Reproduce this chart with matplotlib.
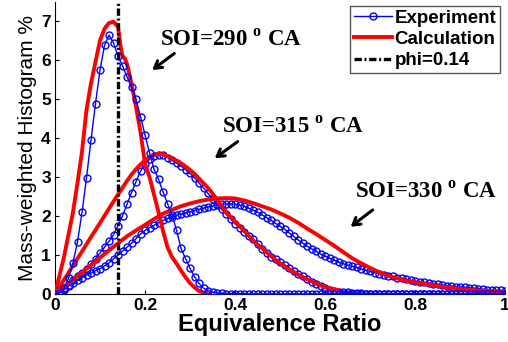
import numpy as np
import matplotlib
matplotlib.use('Agg')
import matplotlib.pyplot as plt

plt.rcParams['font.family'] = ['Liberation Sans', 'DejaVu Sans']
plt.rcParams['mathtext.fontset'] = 'custom'
plt.rcParams['mathtext.rm'] = 'Liberation Serif:bold'

# experiment: histogram bins every 0.01
phi_exp = np.round(np.arange(0, 101) * 0.01, 2)

exp_290 = [0.0, 0.03, 0.15, 0.40, 0.80, 1.34, 2.09, 2.98, 3.95, 4.88,
           5.74, 6.38, 6.64, 6.44, 6.10, 5.85, 5.57, 5.30, 4.99, 4.55,
           4.08, 3.62, 3.20, 2.94, 2.62, 2.32, 2.03, 1.64, 1.17, 0.91,
           0.66, 0.44, 0.27, 0.15, 0.08, 0.05, 0.03, 0.02, 0.01, 0.01,
           0.01, 0.01, 0.01, 0.0, 0.0, 0.0, 0.0, 0.0, 0.0, 0.0,
           0.0, 0.0, 0.0, 0.0, 0.0, 0.0, 0.0, 0.0, 0.0, 0.0,
           0.0, 0.0, 0.0, 0.0, 0.0, 0.0, 0.0, 0.0, 0.0, 0.0,
           0.0, 0.0, 0.0, 0.0, 0.0, 0.0, 0.0, 0.0, 0.0, 0.0,
           0.0, 0.0, 0.0, 0.0, 0.0, 0.0, 0.0, 0.0, 0.0, 0.0,
           0.0, 0.0, 0.0, 0.0, 0.0, 0.0, 0.0, 0.0, 0.0, 0.0,
           0.0]

exp_315 = [0.0, 0.03, 0.10, 0.22, 0.35, 0.45, 0.55, 0.65, 0.77, 0.90,
           1.05, 1.20, 1.35, 1.52, 1.75, 2.00, 2.30, 2.60, 2.88, 3.15,
           3.33, 3.45, 3.53, 3.57, 3.56, 3.50, 3.43, 3.36, 3.28, 3.19,
           3.09, 2.98, 2.85, 2.72, 2.58, 2.44, 2.30, 2.17, 2.05, 1.92,
           1.80, 1.70, 1.60, 1.50, 1.40, 1.28, 1.16, 1.06, 0.96, 0.89,
           0.82, 0.74, 0.66, 0.60, 0.52, 0.45, 0.38, 0.31, 0.25, 0.20,
           0.15, 0.11, 0.08, 0.06, 0.05, 0.04, 0.03, 0.02, 0.02, 0.01,
           0.01, 0.01, 0.01, 0.01, 0.01, 0.0, 0.0, 0.0, 0.0, 0.0,
           0.0, 0.0, 0.0, 0.0, 0.0, 0.0, 0.0, 0.0, 0.0, 0.0,
           0.0, 0.0, 0.0, 0.0, 0.0, 0.0, 0.0, 0.0, 0.0, 0.0,
           0.0]

exp_330 = [0.0, 0.05, 0.12, 0.20, 0.28, 0.35, 0.42, 0.48, 0.54, 0.60,
           0.65, 0.72, 0.80, 0.90, 1.00, 1.10, 1.20, 1.30, 1.42, 1.54,
           1.63, 1.70, 1.76, 1.83, 1.89, 1.94, 1.98, 2.02, 2.05, 2.08,
           2.11, 2.14, 2.17, 2.20, 2.23, 2.26, 2.28, 2.30, 2.31, 2.31,
           2.30, 2.28, 2.25, 2.20, 2.15, 2.10, 2.03, 1.96, 1.89, 1.81,
           1.74, 1.66, 1.57, 1.48, 1.39, 1.31, 1.23, 1.16, 1.10, 1.03,
           0.97, 0.92, 0.87, 0.82, 0.78, 0.74, 0.71, 0.68, 0.64, 0.61,
           0.58, 0.55, 0.52, 0.50, 0.47, 0.45, 0.42, 0.40, 0.38, 0.35,
           0.33, 0.31, 0.30, 0.28, 0.26, 0.25, 0.23, 0.21, 0.20, 0.19,
           0.18, 0.17, 0.16, 0.15, 0.14, 0.12, 0.11, 0.10, 0.09, 0.09,
           0.08]

# calculation curves
phi_calc_290 = [0.0, 0.02, 0.04, 0.05, 0.06, 0.07, 0.08, 0.09, 0.10, 0.11,
                0.12, 0.13, 0.14, 0.145, 0.15, 0.155, 0.16, 0.17, 0.18, 0.19,
                0.20, 0.21, 0.22, 0.23, 0.24, 0.25, 0.26, 0.27, 0.28, 0.29,
                0.30, 0.31, 0.32, 0.33, 0.34]
calc_290 = [0.0, 0.95, 2.10, 2.85, 3.65, 4.72, 5.40, 5.95, 6.50, 6.80,
            6.95, 6.98, 6.85, 6.40, 6.10, 6.04, 5.90, 5.40, 4.80, 4.15,
            3.35, 3.00, 2.55, 2.10, 1.62, 1.20, 0.95, 0.78, 0.60, 0.43,
            0.28, 0.17, 0.08, 0.03, 0.0]

phi_calc_315 = [0.0, 0.02, 0.04, 0.06, 0.08, 0.10, 0.12, 0.14, 0.16, 0.17,
                0.18, 0.19, 0.20, 0.21, 0.22, 0.23, 0.24, 0.25, 0.26, 0.27,
                0.28, 0.29, 0.30, 0.31, 0.32, 0.33, 0.34, 0.35, 0.36, 0.37,
                0.38, 0.39, 0.40, 0.41, 0.42, 0.43, 0.44, 0.45, 0.46, 0.47,
                0.48, 0.49, 0.50, 0.52, 0.54, 0.56, 0.58, 0.60, 0.62, 0.63]
calc_315 = [0.0, 0.36, 0.73, 1.09, 1.46, 1.82, 2.19, 2.55, 2.90, 3.06,
            3.20, 3.32, 3.43, 3.51, 3.57, 3.60, 3.58, 3.54, 3.48, 3.42,
            3.35, 3.27, 3.18, 3.08, 2.96, 2.84, 2.72, 2.58, 2.42, 2.25,
            2.10, 1.97, 1.86, 1.74, 1.62, 1.50, 1.38, 1.27, 1.17, 1.07,
            0.97, 0.88, 0.79, 0.64, 0.50, 0.38, 0.27, 0.18, 0.12, 0.10]

phi_calc_330 = [0.0, 0.02, 0.04, 0.06, 0.08, 0.10, 0.12, 0.14, 0.16, 0.18,
                0.20, 0.22, 0.24, 0.26, 0.28, 0.30, 0.32, 0.34, 0.36, 0.38,
                0.40, 0.42, 0.44, 0.46, 0.48, 0.50, 0.52, 0.54, 0.56, 0.58,
                0.60, 0.62, 0.64, 0.66, 0.68, 0.70, 0.72, 0.74, 0.76, 0.78,
                0.80, 0.82, 0.84, 0.86, 0.88, 0.90, 0.92, 0.94, 0.96, 0.98,
                1.00]
calc_330 = [0.0, 0.18, 0.37, 0.55, 0.74, 0.93, 1.12, 1.30, 1.48, 1.63,
            1.77, 1.92, 2.06, 2.16, 2.25, 2.32, 2.38, 2.42, 2.45, 2.46,
            2.45, 2.40, 2.33, 2.25, 2.17, 2.07, 1.96, 1.83, 1.68, 1.54,
            1.39, 1.24, 1.08, 0.92, 0.79, 0.67, 0.56, 0.47, 0.40, 0.34,
            0.30, 0.26, 0.23, 0.19, 0.16, 0.13, 0.11, 0.09, 0.08, 0.06,
            0.05]

phi_line = 0.14

xticks = [0, 0.2, 0.4, 0.6, 0.8, 1]
xtick_labels = ['0', '0.2', '0.4', '0.6', '0.8', '1']
yticks = [0, 1, 2, 3, 4, 5, 6, 7]

labels = ['SOI=290 $^{\\mathrm{o}}$ CA', 'SOI=315 $^{\\mathrm{o}}$ CA',
          'SOI=330 $^{\\mathrm{o}}$ CA']
label_pos = [(0.233, 6.51), (0.371, 4.28), (0.667, 2.62)]
arrow_tails = [(0.27, 6.21), (0.411, 3.95), (0.711, 2.20)]
arrow_heads = [(0.211, 5.70), (0.350, 3.44), (0.652, 1.68)]

fig = plt.figure(figsize=(5.08, 3.42), dpi=100)
ax = fig.add_axes([55 / 508, 48 / 342, 450 / 508, 292.5 / 342])

exp_style = dict(color='blue', lw=1.0, marker='o', ms=5.0, mfc='none',
                 mec='blue', mew=1.0)
calc_style = dict(color='red', lw=2.8, solid_joinstyle='round')

ax.plot(phi_exp, exp_330, **exp_style, zorder=2)
ax.plot(phi_exp, exp_315, **exp_style, zorder=2)
ax.plot(phi_calc_330, calc_330, **calc_style, zorder=3)
ax.plot(phi_calc_315, calc_315, **calc_style, zorder=3)
ax.plot(phi_calc_290, calc_290, **calc_style, zorder=3)
h_exp, = ax.plot(phi_exp, exp_290, **exp_style, zorder=4, label='Experiment')
h_calc, = ax.plot([], [], **calc_style, label='Calculation')
h_phi = ax.axvline(phi_line, color='black', lw=2.4,
                   ls=(0, (2.2, 0.8, 0.6, 0.8)), zorder=5, label='phi=0.14')

for txt, pos, tail, head in zip(labels, label_pos, arrow_tails, arrow_heads):
    ax.text(pos[0], pos[1], txt, ha='left', va='center', fontsize=16.5,
            family='Liberation Serif', weight='bold')
    ax.annotate('', xy=head, xytext=tail,
                arrowprops=dict(arrowstyle='->,head_length=0.5,head_width=0.3',
                                color='black', lw=2.2))

ax.set_xlim(0, 1)
ax.set_ylim(0, 7.5)
ax.set_xticks(xticks)
ax.set_xticklabels(xtick_labels)
ax.set_yticks(yticks)
ax.tick_params(direction='in', length=3, width=0.8, labelsize=12.5, pad=3)
for lab in ax.get_xticklabels() + ax.get_yticklabels():
    lab.set_fontweight('bold')
ax.spines['top'].set_visible(False)
ax.spines['right'].set_visible(False)

ax.set_xlabel('Equivalence Ratio', fontsize=17, fontweight='bold', labelpad=0)
ax.set_ylabel('Mass-weighted Histogram %', fontsize=15, labelpad=3)

leg = ax.legend(handles=[h_exp, h_calc, h_phi], loc='upper right',
                bbox_to_anchor=(0.989, 0.985), borderaxespad=0,
                fancybox=False, edgecolor='0.35', framealpha=1,
                fontsize=13.5, handlelength=2.0,
                handletextpad=0.15, labelspacing=0.22, borderpad=0.2)
for t in leg.get_texts():
    t.set_fontweight('bold')
leg.get_frame().set_linewidth(1.0)

fig.savefig('out.png', dpi=100)
